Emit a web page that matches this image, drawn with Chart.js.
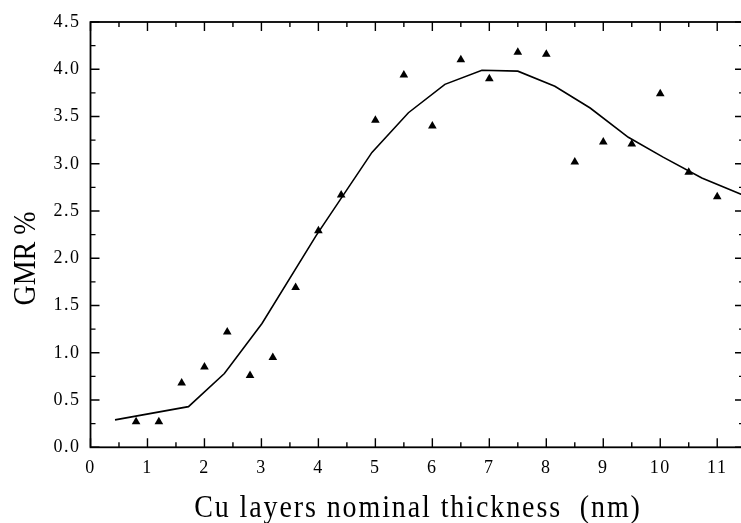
<!DOCTYPE html>
<html>
<head>
<meta charset="utf-8">
<script src="https://cdn.jsdelivr.net/npm/chart.js@4/dist/chart.umd.min.js"></script>
<style>
    html, body { margin: 0; padding: 0; background: #fff; overflow: hidden; }
    #wrap { position: absolute; left: 0; top: 0; width: 750px; height: 523px; }
</style>
</head>
<body>
<div id="wrap"><canvas id="gmrChart" width="750" height="523"></canvas></div>
<script>
// Measured points (triangles)
const thicknessNm = [0.8, 1.2, 1.6, 2.0, 2.4, 2.8, 3.2, 3.6, 4.0, 4.4, 5.0, 5.5, 6.0, 6.5, 7.0, 7.5, 8.0, 8.5, 9.0, 9.5, 10.0, 10.5, 11.0];
const gmrPercent = [0.27, 0.27, 0.68, 0.85, 1.22, 0.76, 0.95, 1.69, 2.29, 2.67, 3.46, 3.94, 3.40, 4.10, 3.90, 4.18, 4.16, 3.02, 3.23, 3.21, 3.74, 2.91, 2.65];

// Fitted curve
const fitX = [0.43, 1.72, 2.35, 3.01, 3.96, 4.94, 5.58, 6.22, 6.87, 7.5, 8.15, 8.77, 9.44, 10.05, 10.73, 11.45];
const fitY = [0.29, 0.43, 0.78, 1.31, 2.24, 3.12, 3.54, 3.84, 3.99, 3.98, 3.82, 3.59, 3.28, 3.07, 2.85, 2.67];

// Axis ranges
const xRange = [0, 11.47];
const yRange = [0, 4.5];

const FONT = "'Liberation Serif', 'Times New Roman', serif";

/**
 * Frame box plus inward major/minor tick marks on all four sides
 */
const frameTicks = {
    id: 'frameTicks',
    afterDatasetsDraw: (chart) => {
        const ctx = chart.ctx;
        const { left, right, top, bottom } = chart.chartArea;
        const sx = chart.scales.x;
        const sy = chart.scales.y;
        ctx.save();
        ctx.strokeStyle = '#000';
        ctx.lineWidth = 1.8;
        ctx.strokeRect(left, top, right - left, bottom - top);
        ctx.lineWidth = 1.4;
        ctx.beginPath();
        for (let v = 0; v <= 11.4; v += 0.5) {
            const px = sx.getPixelForValue(v);
            const len = Number.isInteger(v) ? 9 : 5;
            ctx.moveTo(px, bottom);
            ctx.lineTo(px, bottom - len);
            ctx.moveTo(px, top);
            ctx.lineTo(px, top + len);
        }
        for (let v = 0; v <= 4.5; v += 0.25) {
            const py = sy.getPixelForValue(v);
            const len = Math.abs(v * 2 - Math.round(v * 2)) < 1e-6 ? 9 : 5;
            ctx.moveTo(left, py);
            ctx.lineTo(left + len, py);
            ctx.moveTo(right, py);
            ctx.lineTo(right - len, py);
        }
        ctx.stroke();
        ctx.restore();
    },
};

/**
 * Axis titles, drawn by hand for the letter spacing and taller glyphs
 */
const axisTitles = {
    id: 'axisTitles',
    beforeDraw: (chart) => {
        chart.ctx.letterSpacing = '1.5px';
    },
    afterDraw: (chart) => {
        const ctx = chart.ctx;
        ctx.save();
        ctx.fillStyle = '#000';
        ctx.font = `28px ${FONT}`;
        ctx.textAlign = 'center';
        ctx.textBaseline = 'alphabetic';

        // x title
        ctx.letterSpacing = '1.9px';
        ctx.save();
        ctx.translate(418, 516.5);
        ctx.scale(1, 1.13);
        ctx.fillText('Cu layers nominal thickness  (nm)', 0, 0);
        ctx.restore();

        // y title
        ctx.letterSpacing = '0px';
        ctx.save();
        ctx.translate(35, 258.5);
        ctx.rotate(-Math.PI / 2);
        ctx.scale(1, 1.15);
        ctx.fillText('GMR %', 0, 0);
        ctx.restore();

        ctx.restore();
        ctx.letterSpacing = '0px';
    },
};

new Chart(document.getElementById('gmrChart'), {
    type: 'scatter',
    data: {
        datasets: [
            {
                label: 'GMR',
                data: thicknessNm.map((x, i) => ({ x: x, y: gmrPercent[i] })),
                pointStyle: 'triangle',
                pointRadius: 5,
                backgroundColor: '#000',
                borderColor: '#000',
                borderWidth: 0,
                showLine: false,
            },
            {
                label: 'fit',
                data: fitX.map((x, i) => ({ x: x, y: fitY[i] })),
                showLine: true,
                borderColor: '#000',
                borderWidth: 1.6,
                pointRadius: 0,
                tension: 0,
                fill: false,
            },
        ],
    },
    plugins: [frameTicks, axisTitles],
    options: {
        responsive: false,
        devicePixelRatio: 1,
        animation: false,
        layout: {
            padding: { top: 22, right: 6, left: 0, bottom: 0 },
        },
        plugins: {
            legend: { display: false },
            tooltip: { enabled: false },
        },
        scales: {
            x: {
                type: 'linear',
                min: xRange[0],
                max: xRange[1],
                afterFit: (s) => {
                    s.height = 75.7;
                },
                grid: { display: false, drawTicks: false },
                border: { display: false },
                ticks: {
                    stepSize: 1,
                    includeBounds: false,
                    padding: 10,
                    color: '#000',
                    font: { family: FONT, size: 18 },
                    maxRotation: 0,
                    callback: (v) => (Number.isInteger(v) ? String(v) : ''),
                },
            },
            y: {
                type: 'linear',
                min: yRange[0],
                max: yRange[1],
                afterFit: (s) => {
                    s.width = 90.5;
                },
                grid: { display: false, drawTicks: false },
                border: { display: false },
                ticks: {
                    stepSize: 0.5,
                    padding: 10,
                    color: '#000',
                    font: { family: FONT, size: 18 },
                    callback: (v) => v.toFixed(1),
                },
            },
        },
    },
});
</script>
</body>
</html>
